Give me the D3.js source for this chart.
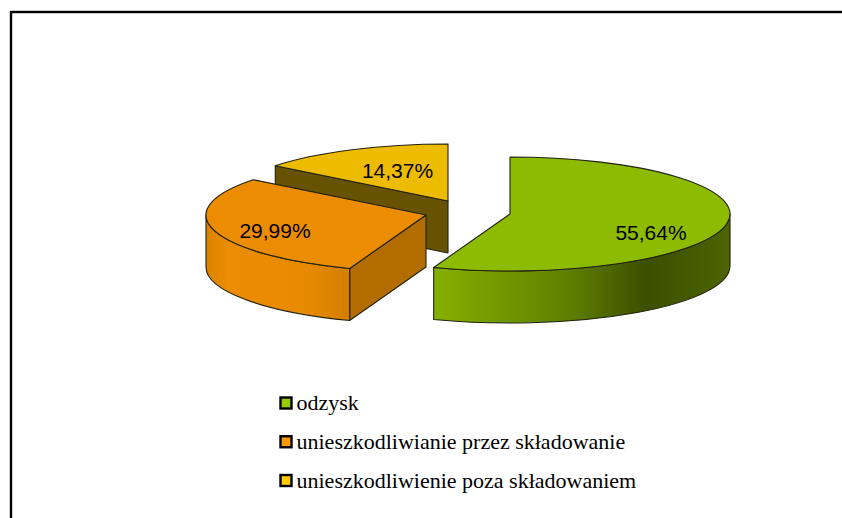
<!DOCTYPE html>
<html lang="en">
<head>
    <meta charset="UTF-8">
    <title>Pie chart</title>
    <script src="https://d3js.org/d3.v7.min.js"></script>
    <style>
        html, body { margin: 0; padding: 0; background: #fff; overflow: hidden; }
        svg { display: block; }
    </style>
</head>
<body>
    <div id="chart"></div>
    <script>
        // Data
        const categories = ["odzysk", "unieszkodliwianie przez składowanie", "unieszkodliwienie poza składowaniem"];
        const shares = [55.64, 29.99, 14.37];
        const shareLabels = ["55,64%", "29,99%", "14,37%"];

        // Colours
        const topColors = ["#8dbb00", "#ec8c00", "#edbb00"];
        const legendColors = ["#99cc00", "#ff9900", "#ffcc00"];
        const cutColors = [null, "#b36c00", "#665200"];
        const wallStops = [
            [[0, "#86b000"], [0.45, "#5f8000"], [0.72, "#3b4f00"], [1, "#4c6400"]],
            [[0, "#d98300"], [0.15, "#ec8c00"], [0.7, "#e88a00"], [1, "#d47e00"]],
            null
        ];

        // Layout
        const width = 842, height = 518;
        const rx = 220, ry = 57, depth = 52;
        const centers = [[510, 214], [426, 215], [448, 201]];
        const labelPos = [[651, 233], [275, 231], [397.5, 171]];

        const svg = d3.select("#chart").append("svg")
            .attr("width", width)
            .attr("height", height);

        // Frame, right and bottom sides fall outside the window
        svg.append("rect")
            .attr("x", 11).attr("y", 12)
            .attr("width", 840).attr("height", 520)
            .attr("fill", "#fff")
            .attr("stroke", "#000")
            .attr("stroke-width", 2.4);

        const slices = d3.pie().sort(null)(shares);

        // Point on the tilted rim, angle clockwise from 12 o'clock
        const rim = (c, a, dy = 0) => [c[0] + rx * Math.sin(a), c[1] - ry * Math.cos(a) + dy];

        function arcTo(c, a, dy = 0, sweep = 1, large = 0) {
            const p = rim(c, a, dy);
            return `A${rx},${ry} 0 ${large} ${sweep} ${p[0]},${p[1]}`;
        }

        const defs = svg.append("defs");

        // Draw back to front: yellow, orange, green
        [2, 1, 0].forEach(i => {
            const s = slices[i], c = centers[i];
            const a0 = s.startAngle, a1 = s.endAngle;
            const p0 = rim(c, a0);
            const g = svg.append("g")
                .attr("stroke", "#22220f")
                .attr("stroke-width", 1.1)
                .attr("stroke-linejoin", "round");

            // Cut face turned to the viewer
            if (cutColors[i]) {
                g.append("path")
                    .attr("d", `M${c[0]},${c[1]}L${p0[0]},${p0[1]}L${p0[0]},${p0[1] + depth}L${c[0]},${c[1] + depth}Z`)
                    .attr("fill", cutColors[i]);
            }

            // Outer wall, only where the rim faces front (90 to 270 degrees)
            if (wallStops[i]) {
                const from = Math.max(a0, Math.PI / 2), to = Math.min(a1, 3 * Math.PI / 2);
                const pa = rim(c, from), pb = rim(c, to);
                const id = `wall${i}`;
                const grad = defs.append("linearGradient").attr("id", id)
                    .attr("gradientUnits", "userSpaceOnUse")
                    .attr("x1", Math.min(pa[0], pb[0])).attr("x2", Math.max(pa[0], pb[0]))
                    .attr("y1", 0).attr("y2", 0);
                wallStops[i].forEach(d => grad.append("stop").attr("offset", d[0]).attr("stop-color", d[1]));
                g.append("path")
                    .attr("d", `M${pa[0]},${pa[1]}${arcTo(c, to)}L${pb[0]},${pb[1] + depth}${arcTo(c, from, depth, 0)}Z`)
                    .attr("fill", `url(#${id})`);
            }

            // Top face
            g.append("path")
                .attr("d", `M${c[0]},${c[1]}L${p0[0]},${p0[1]}${arcTo(c, a1, 0, 1, (a1 - a0) > Math.PI ? 1 : 0)}Z`)
                .attr("fill", topColors[i]);
        });

        // Value labels
        svg.append("g").selectAll("text")
            .data(shareLabels)
            .join("text")
            .attr("x", (d, i) => labelPos[i][0])
            .attr("y", (d, i) => labelPos[i][1])
            .attr("dy", "0.35em")
            .attr("text-anchor", "middle")
            .attr("font-family", "'Liberation Sans', Arial, sans-serif")
            .attr("font-size", 21)
            .attr("fill", "#000")
            .text(d => d);

        // Legend
        const legendY = d3.scalePoint().domain(categories).range([403, 480.5]);
        const legend = svg.append("g").selectAll("g")
            .data(categories)
            .join("g")
            .attr("transform", d => `translate(0,${legendY(d)})`);

        legend.append("rect")
            .attr("x", 280.5).attr("y", -5.5)
            .attr("width", 11).attr("height", 11)
            .attr("fill", (d, i) => legendColors[i])
            .attr("stroke", "#000")
            .attr("stroke-width", 2.4);

        legend.append("text")
            .attr("x", 296.5)
            .attr("y", 7)
            .attr("font-family", "'Liberation Serif', 'Times New Roman', serif")
            .attr("font-size", 22)
            .attr("fill", "#000")
            .text(d => d);
    </script>
</body>
</html>
